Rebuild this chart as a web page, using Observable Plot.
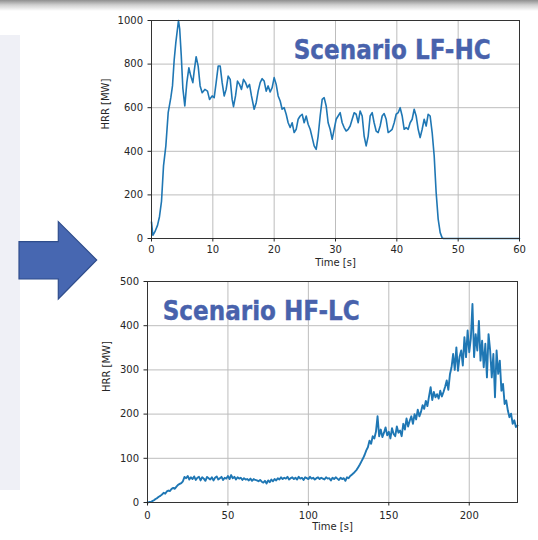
<!DOCTYPE html>
<html><head><meta charset="utf-8">
<script src="https://cdn.jsdelivr.net/npm/d3@7"></script>
<script src="https://cdn.jsdelivr.net/npm/@observablehq/plot@0.6"></script>
<style>
html,body{margin:0;padding:0;background:#fff;}
#stage{position:relative;width:538px;height:540px;overflow:hidden;font-family:"DejaVu Sans",sans-serif;}
#topbar{position:absolute;left:0;top:0;width:538px;height:11px;background:linear-gradient(#8f8f8f,#cfcfcf 45%,#ffffff);}
#panel{position:absolute;left:0;top:35px;width:20px;height:455px;background:#eff0f6;}
.chart{position:absolute;left:0;}
#overlay{position:absolute;left:0;top:0;pointer-events:none;}
</style></head>
<body>
<div id="stage">
  <div id="topbar"></div>
  <div id="panel"></div>
  <div id="c1" class="chart" style="top:0px"></div>
  <div id="c2" class="chart" style="top:270px"></div>
  <svg id="overlay" width="538" height="540"></svg>
</div>
<script>
// ---- Scenario LF-HC (top chart) ----
const lfTime = [0.00,0.22,0.54,0.98,1.30,1.63,1.96,2.34,2.72,3.15,3.42,3.70,3.97,4.40,4.60,4.85,5.11,5.43,5.76,6.09,
 6.41,6.74,6.96,7.28,7.61,7.93,8.26,8.70,9.13,9.46,9.89,10.22,10.54,10.87,11.20,11.52,11.85,12.17,12.50,12.83,
 13.15,13.37,13.70,14.02,14.35,14.67,15.00,15.33,15.65,15.98,16.30,16.74,17.07,17.39,17.72,18.04,18.37,18.70,19.02,19.35,
 19.67,20.00,20.33,20.65,20.98,21.30,21.63,21.96,22.28,22.61,22.93,23.26,23.59,23.91,24.24,24.57,24.89,25.22,25.54,25.87,
 26.20,26.52,26.85,27.17,27.50,27.83,28.15,28.48,28.80,29.13,29.46,29.78,30.11,30.43,30.76,31.09,31.41,31.74,32.07,32.39,
 32.72,33.04,33.37,33.70,34.02,34.35,34.67,35.00,35.33,35.65,35.98,36.30,36.63,36.96,37.28,37.61,37.93,38.26,38.59,38.91,
 39.24,39.57,39.89,40.22,40.54,40.87,41.20,41.52,41.85,42.17,42.50,42.83,43.15,43.48,43.80,44.13,44.46,44.78,45.11,45.43,
 45.76,46.09,46.41,46.74,47.07,47.39,47.60,60.00];
const lfHRR = [76,15,30,60,100,170,333,425,577,646,700,820,900,1000,960,840,690,608,715,783,
 745,715,768,834,791,700,669,684,676,638,654,646,715,791,791,715,654,684,745,730,
 638,605,654,722,707,684,730,715,692,707,654,593,623,676,715,733,722,676,700,672,
 692,738,707,654,631,593,600,570,531,509,531,486,501,547,562,570,531,562,524,501,
 463,425,409,470,562,638,646,608,531,501,455,501,547,562,577,531,509,493,501,516,
 547,577,570,531,585,562,470,425,470,562,577,531,493,486,516,562,573,547,486,493,
 501,531,570,577,600,562,501,509,501,531,547,593,562,501,463,501,547,516,570,562,
 486,379,211,89,27,3,0,0];
const lfXTicks = [0,10,20,30,40,50,60];
const lfYTicks = [0,200,400,600,800,1000];

// ---- Scenario HF-LC (bottom chart), one reading per second from t = 0 s ----
const hfHRR = [
 0,1,1,3,5,8,10,13,15,18,
 22,20,25,27,26,31,33,31,36,40,
 42,44,48,58,55,60,52,57,53,59,
 51,56,58,50,57,54,49,58,55,52,
 57,50,56,59,52,55,58,51,56,54,
 60,53,62,55,58,52,57,54,56,51,
 55,52,53,50,54,49,53,51,50,48,
 51,47,45,49,43,50,46,52,48,53,
 50,55,52,57,53,56,54,58,52,55,
 57,53,56,52,58,54,56,51,57,55,
 53,58,54,56,52,55,57,53,56,54,
 52,57,54,55,50,56,53,57,54,51,
 56,53,55,49,57,55,60,63,66,70,
 74,80,86,93,100,108,118,125,140,133,
 150,145,160,195,150,165,148,158,170,152,
 160,145,168,155,150,172,158,163,150,178,
 165,190,172,185,195,178,200,188,210,195,
 205,220,212,230,218,240,261,232,250,238,
 245,235,253,240,250,262,276,255,290,306,
 336,300,351,298,330,344,310,374,329,389,
 340,372,449,329,381,344,411,321,366,306,
 359,283,381,344,283,336,238,344,291,321,
 253,268,223,231,208,193,201,178,186,171,
 174];
const hfTime = hfHRR.map((_, i) => i);
const hfXTicks = [0,50,100,150,200];
const hfYTicks = [0,100,200,300,400,500];

const xLabel = "Time [s]";
const yLabel = "HRR [MW]";

function chart({time, hrr, xDomain, yDomain, xTicks, yTicks, height, mt, mr, mb, ml, xPad, yLabelDx, lineWidth}) {
  const data = time.map((t, i) => ({t, v: hrr[i]}));
  return Plot.plot({
    width: 538, height,
    marginTop: mt, marginRight: mr, marginBottom: mb, marginLeft: ml,
    style: {background: "transparent", color: "#262626", fontFamily: "DejaVu Sans", fontSize: "10px", overflow: "visible"},
    x: {domain: xDomain},
    y: {domain: yDomain},
    marks: [
      Plot.gridX(xTicks, {stroke: "#bdbdbd", strokeOpacity: 1, strokeWidth: 1}),
      Plot.gridY(yTicks, {stroke: "#bdbdbd", strokeOpacity: 1, strokeWidth: 1}),
      Plot.line(data, {x: "t", y: "v", stroke: "#1f77b4", strokeWidth: lineWidth}),
      Plot.frame({stroke: "#333", strokeWidth: 1}),
      Plot.axisX(xTicks, {tickSize: 3.5, tickPadding: xPad, label: null, fontSize: 10, tickFormat: d => String(d)}),
      Plot.axisY(yTicks, {tickSize: 3.5, tickPadding: 5, label: null, fontSize: 10, tickFormat: d => String(d)}),
      Plot.text([xLabel], {frameAnchor: "bottom", dy: 27, text: d => d, fontSize: 10}),
      Plot.text([yLabel], {frameAnchor: "left", dx: yLabelDx, rotate: -90, text: d => d, fontSize: 10})
    ]
  });
}

document.getElementById("c1").appendChild(chart({
  time: lfTime, hrr: lfHRR, xDomain: [0, 60], yDomain: [0, 1000],
  xTicks: lfXTicks, yTicks: lfYTicks, height: 270,
  mt: 20, mr: 19, mb: 32, ml: 151, xPad: 4, yLabelDx: -46, lineWidth: 1.6
}));
document.getElementById("c2").appendChild(chart({
  time: hfTime, hrr: hfHRR, xDomain: [0, 230], yDomain: [0, 500],
  xTicks: hfXTicks, yTicks: hfYTicks, height: 270,
  mt: 11, mr: 21, mb: 38, ml: 147, xPad: 5.5, yLabelDx: -41, lineWidth: 1.9
}));

// decorations: arrow and scenario labels
const ov = d3.select("#overlay");
ov.append("polygon")
  .attr("points", "19,241.7 58.3,241.7 58.3,221.7 96.7,260 58.3,299 58.3,279 19,279")
  .attr("fill", "#4767b1").attr("stroke", "#2f4d8c").attr("stroke-width", 1.2);
const scen = [
  {label: "Scenario LF-HC", x: 293.7, y: 59.3},
  {label: "Scenario HF-LC", x: 162.7, y: 320}
];
scen.forEach(s => {
  ov.append("text").attr("x", s.x).attr("y", s.y)
    .attr("font-family", "DejaVu Sans").attr("font-weight", "bold").attr("font-size", 26)
    .attr("fill", "#4862ac").attr("stroke", "#4862ac").attr("stroke-width", 0.4)
    .attr("textLength", 197).attr("lengthAdjust", "spacingAndGlyphs")
    .text(s.label);
});
</script>
</body></html>
